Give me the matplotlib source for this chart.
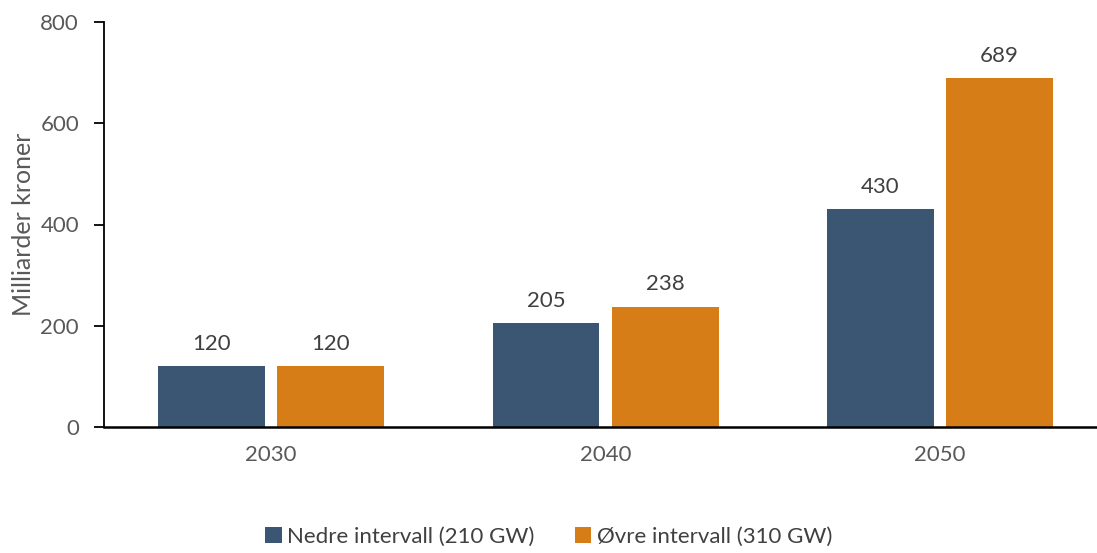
import matplotlib.pyplot as plt
import numpy as np

plt.rcParams['font.family'] = ['Lato', 'DejaVu Sans']

years = ['2030', '2040', '2050']
nedre = [120, 205, 430]
ovre = [120, 238, 689]
series_names = ['Nedre intervall (210 GW)', 'Øvre intervall (310 GW)']
colors = ['#3A5673', '#D77D17']

fig = plt.figure(figsize=(10.97, 5.53), dpi=100)
ax = fig.add_axes([104 / 1097, 1 - 427 / 553, (1097 - 104) / 1097, 405 / 553])

x = np.arange(len(years))
w = 0.32
off = 0.178
b1 = ax.bar(x - off, nedre, w, color=colors[0], label=series_names[0])
b2 = ax.bar(x + off, ovre, w, color=colors[1], label=series_names[1])

for bars in (b1, b2):
    ax.bar_label(bars, padding=9, fontsize=16, color='#404040')

ax.set_xlim(-0.5, 2.47)
ax.set_ylim(0, 800)
ax.set_yticks([0, 200, 400, 600, 800])
ax.set_xticks(x)
ax.set_xticklabels(years)
ax.tick_params(axis='x', length=0, pad=13, labelsize=16, labelcolor='#595959')
ax.tick_params(axis='y', length=7, width=1.3, pad=11, labelsize=16, labelcolor='#595959')
ax.set_ylabel('Milliarder kroner', fontsize=18, color='#595959', labelpad=4)

for s in ['top', 'right']:
    ax.spines[s].set_visible(False)
ax.spines['left'].set_linewidth(1.3)
ax.spines['bottom'].set_linewidth(1.8)

fig.legend(loc='lower center', bbox_to_anchor=(0.5, -0.025), ncol=2, frameon=False,
           fontsize=16, labelcolor='#404040', handlelength=0.75, handleheight=0.75,
           handletextpad=0.25, columnspacing=1.8)

fig.savefig('out.png', dpi=100)
